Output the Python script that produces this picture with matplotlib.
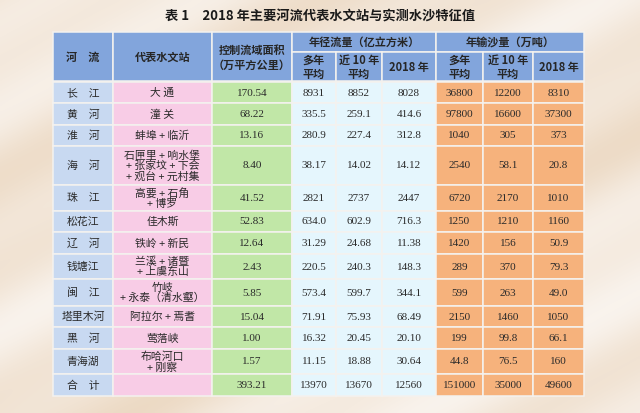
import matplotlib
matplotlib.use("Agg")
import matplotlib.pyplot as plt
import numpy as np
from matplotlib.patches import Rectangle

# ---------------- data ----------------
title = "表 1　2018 年主要河流代表水文站与实测水沙特征值"
rivers = ["长　江", "黄　河", "淮　河", "海　河", "珠　江", "松花江", "辽　河",
          "钱塘江", "闽　江", "塔里木河", "黑　河", "青海湖", "合　计"]
stations = ["大 通", "潼 关", "蚌埠 + 临沂", "石匣里 + 响水堡\n+ 张家坟 + 下会\n+ 观台 + 元村集",
            "高要 + 石角\n+ 博罗", "佳木斯", "铁岭 + 新民", "兰溪 + 诸暨\n+ 上虞东山",
            "竹岐\n+ 永泰（清水壑）", "阿拉尔 + 焉耆", "莺落峡", "布哈河口\n+ 刚察", ""]
area = ["170.54", "68.22", "13.16", "8.40", "41.52", "52.83", "12.64", "2.43", "5.85",
        "15.04", "1.00", "1.57", "393.21"]
flow_multi = ["8931", "335.5", "280.9", "38.17", "2821", "634.0", "31.29", "220.5", "573.4",
              "71.91", "16.32", "11.15", "13970"]
flow_10yr = ["8852", "259.1", "227.4", "14.02", "2737", "602.9", "24.68", "240.3", "599.7",
             "75.93", "20.45", "18.88", "13670"]
flow_2018 = ["8028", "414.6", "312.8", "14.12", "2447", "716.3", "11.38", "148.3", "344.1",
             "68.49", "20.10", "30.64", "12560"]
sed_multi = ["36800", "97800", "1040", "2540", "6720", "1250", "1420", "289", "599",
             "2150", "199", "44.8", "151000"]
sed_10yr = ["12200", "16600", "305", "58.1", "2170", "1210", "156", "370", "263",
            "1460", "99.8", "76.5", "35000"]
sed_2018 = ["8310", "37300", "373", "20.8", "1010", "1160", "50.9", "79.3", "49.0",
            "1050", "66.1", "160", "49600"]
header_main = ["河　流", "代表水文站", "控制流域面积\n（万平方公里）"]
header_group = ["年径流量（亿立方米）", "年输沙量（万吨）"]
header_sub = ["多年\n平均", "近 10 年\n平均", "2018 年"]

# ---------------- layout ----------------
W, H = 640, 413
col_x = [53, 113, 212, 292, 336, 382, 436, 483, 533, 584]
head_top, head_mid, head_bot = 32, 52, 81
row_y = [82, 103, 125, 146, 185, 211, 232, 254, 279, 306, 327, 349, 374, 396]

c_head = "#82a5dc"
c_river = "#c8d9f1"
c_station = "#f8cce6"
c_area = "#c1e7a7"
c_flow = "#e5f6fd"
c_sed = "#f6b27c"
line_c = "#f4f2ef"

fig = plt.figure(figsize=(W / 100, H / 100), dpi=100)
ax = fig.add_axes([0, 0, 1, 1])
ax.set_xlim(0, W)
ax.set_ylim(H, 0)
ax.axis("off")

# background: soft beige with light diagonal streaks
yy, xx = np.mgrid[0:H:2, 0:W:2]
t = (xx * 0.55 + yy) / 90.0
s = 0.45 + 0.25 * np.sin(t * 2.1) + 0.15 * np.sin(t * 5.3 + 1.0) + 0.1 * np.sin(t * 0.7)
s = s + 0.4 * (yy / H) * (xx / W)
s = np.clip(s, 0, 1)
c0 = np.array([235, 215, 192]) / 255
c1 = np.array([250, 245, 240]) / 255
img = c0[None, None, :] * (1 - s[..., None]) + c1[None, None, :] * s[..., None]
ax.imshow(img, extent=[0, W, H, 0], aspect="auto", zorder=0, interpolation="bilinear")

cjk_sans = ["Noto Sans CJK SC", "DejaVu Sans"]
body_font = ["Liberation Serif", "Noto Sans CJK SC"]

ax.text(W / 2, 17, title, ha="center", va="center", fontsize=9.5, fontweight="bold",
        family=cjk_sans, color="#1a1a1a", zorder=5)


def cell(x0, x1, y0, y1, color):
    ax.add_patch(Rectangle((x0, y0), x1 - x0, y1 - y0, facecolor=color,
                           edgecolor=line_c, linewidth=1.1, zorder=2))


# header cells
hfs = 8
for i in range(3):
    cell(col_x[i], col_x[i + 1], head_top, head_bot, c_head)
    ax.text((col_x[i] + col_x[i + 1]) / 2, (head_top + head_bot) / 2 + 1, header_main[i],
            ha="center", va="center", fontsize=hfs, family=cjk_sans, fontweight="bold",
            color="#262626", linespacing=1.2, zorder=5)
for g in range(2):
    xa, xb = col_x[3 + 3 * g], col_x[6 + 3 * g]
    cell(xa, xb, head_top, head_mid, c_head)
    ax.text((xa + xb) / 2, (head_top + head_mid) / 2, header_group[g], ha="center",
            va="center", fontsize=hfs, family=cjk_sans, fontweight="bold",
            color="#262626", zorder=5)
    for k in range(3):
        x0, x1 = col_x[3 + 3 * g + k], col_x[4 + 3 * g + k]
        cell(x0, x1, head_mid, head_bot, c_head)
        ax.text((x0 + x1) / 2, (head_mid + head_bot) / 2 + 0.5, header_sub[k], ha="center",
                va="center", fontsize=hfs, family=cjk_sans, fontweight="bold",
                color="#262626", linespacing=1.1, zorder=5)

# body
columns = [rivers, stations, area, flow_multi, flow_10yr, flow_2018,
           sed_multi, sed_10yr, sed_2018]
colors = [c_river, c_station, c_area, c_flow, c_flow, c_flow, c_sed, c_sed, c_sed]
for r in range(len(rivers)):
    y0, y1 = row_y[r], row_y[r + 1]
    for c, vals in enumerate(columns):
        x0, x1 = col_x[c], col_x[c + 1]
        cell(x0, x1, y0, y1, colors[c])
        fam = cjk_sans if c < 2 else body_font
        fs = 7.8 if c < 2 else 8
        ax.text((x0 + x1) / 2, (y0 + y1) / 2 + 0.5, vals[r], ha="center", va="center",
                fontsize=fs, family=fam, color="#2a2a2a", linespacing=1.02, zorder=5)

fig.savefig("out.png", dpi=100)
